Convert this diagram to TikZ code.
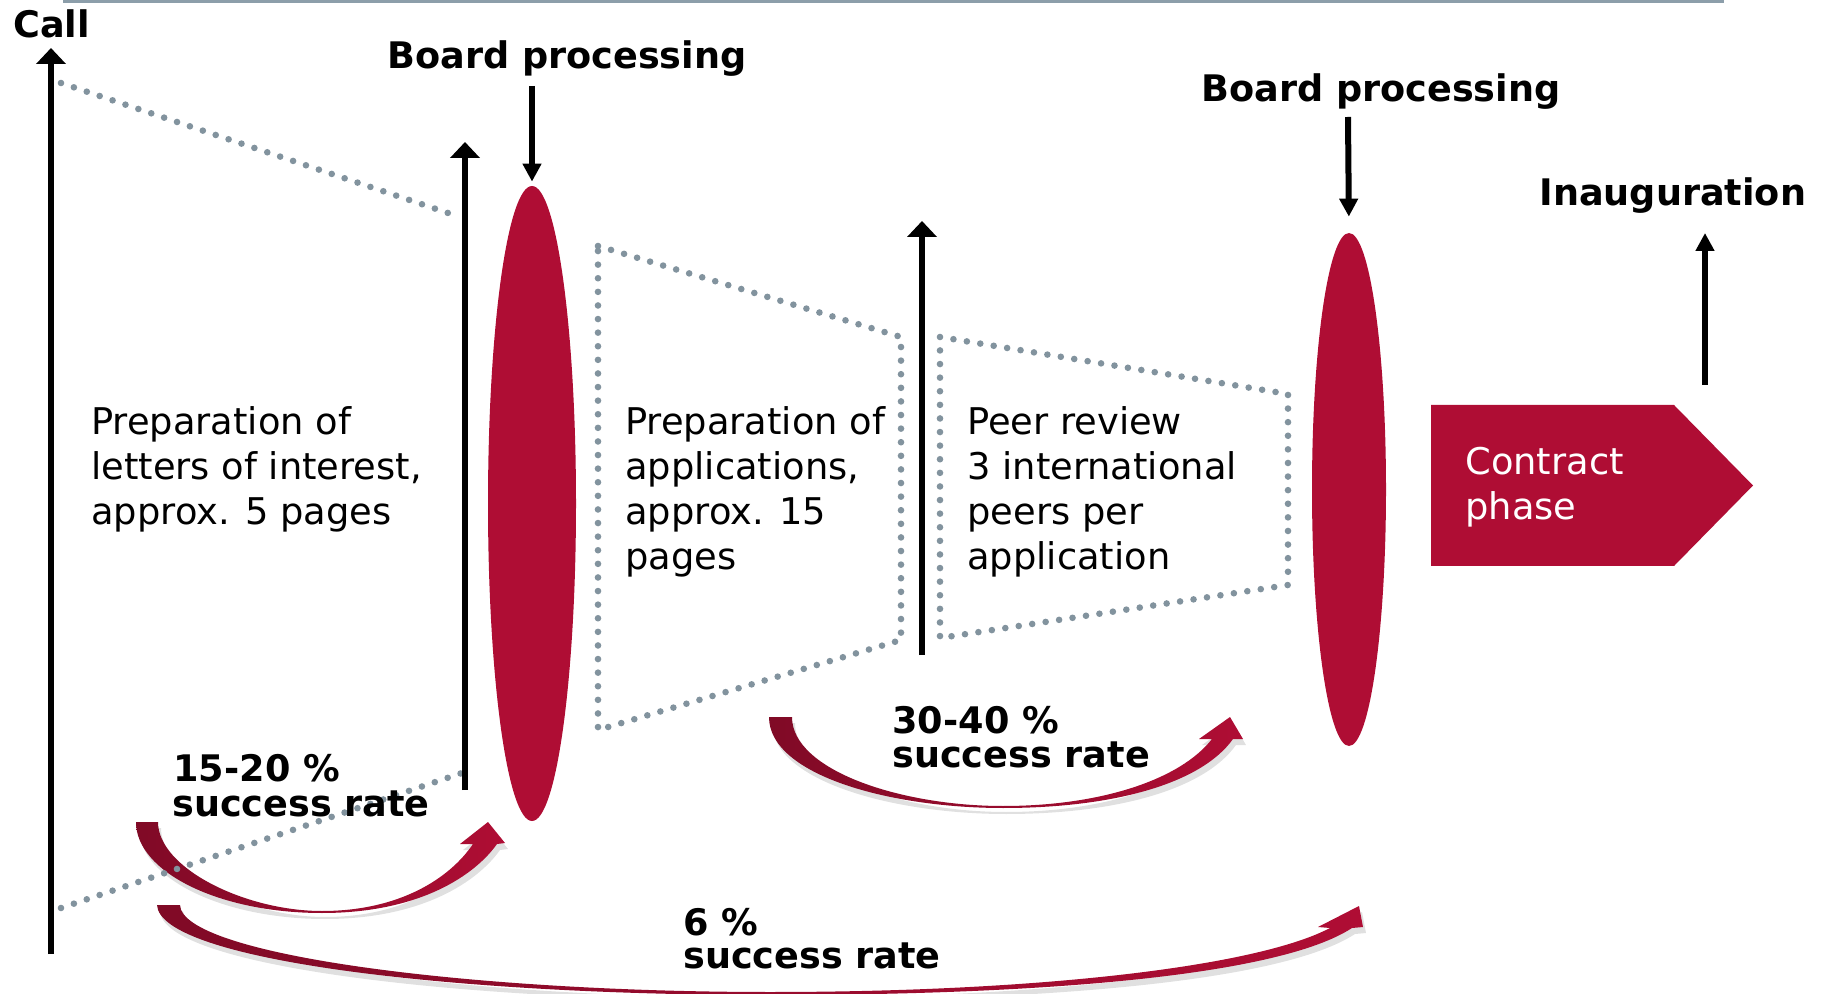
\documentclass[tikz,border=0pt]{standalone}
\usepackage{fontspec}
\setmainfont{DejaVu Sans}
\usetikzlibrary{arrows.meta,shapes.geometric}
\definecolor{crim}{RGB}{175,13,52}
\definecolor{crimdark}{RGB}{128,10,38}
\definecolor{dotgray}{RGB}{130,147,158}
\definecolor{rulegray}{RGB}{140,158,170}
\tikzset{
  bigarrow/.style={line width=3pt,-{Triangle[width=14.5pt,length=8pt]}},
  smallarrow/.style={line width=3pt,-{Triangle[width=9pt,length=9pt]}},
  dotline/.style={draw=dotgray,line width=3.3pt,line cap=round,dash pattern=on 0pt off 6.8pt},
  lbl/.style={inner sep=0pt,anchor=base west,font=\fontsize{18.4pt}{22pt}\selectfont},
  blbl/.style={inner sep=0pt,anchor=base west,font=\fontsize{18.3pt}{22pt}\selectfont\bfseries},
  ell/.style={ellipse,fill=crim,inner sep=0pt},
  band/.style={left color=crimdark,right color=crim},
  bandshadow/.style={fill=black,opacity=0.12},
}
\begin{document}
\begin{tikzpicture}[x=0.5pt,y=-0.5pt]
\useasboundingbox (0,0) rectangle (1827,994);
% top rule
\coordinate (ruleL) at (63,1.5);
\coordinate (ruleR) at (1724,1.5);
\draw[rulegray,line width=1.5pt] (ruleL) -- (ruleR);

% curved success-rate arrows (shadows first)
\path[bandshadow,shift={(3,6)}] (136,822) .. controls (136,872) and (219,913) .. (322,913) .. controls (420,913) and (475,875) .. (497,844) -- (505,843) -- (488,822) -- (460,844) -- (473,844) .. controls (450,878) and (400,911) .. (322,911) .. controls (245,911) and (158,868) .. (158,822) -- cycle;
\path[band] (136,822) .. controls (136,872) and (219,913) .. (322,913) .. controls (420,913) and (475,875) .. (497,844) -- (505,843) -- (488,822) -- (460,844) -- (473,844) .. controls (450,878) and (400,911) .. (322,911) .. controls (245,911) and (158,868) .. (158,822) -- cycle;

\path[bandshadow,shift={(3,6)}] (769,717) .. controls (769,775) and (890,808) .. (1003,808) .. controls (1110,808) and (1200,785) .. (1233,739) -- (1243,739) -- (1230,717) -- (1199,739) -- (1212,739) .. controls (1180,780) and (1100,806) .. (1003,806) .. controls (900,806) and (792,770) .. (792,717) -- cycle;
\path[band] (769,717) .. controls (769,775) and (890,808) .. (1003,808) .. controls (1110,808) and (1200,785) .. (1233,739) -- (1243,739) -- (1230,717) -- (1199,739) -- (1212,739) .. controls (1180,780) and (1100,806) .. (1003,806) .. controls (900,806) and (792,770) .. (792,717) -- cycle;

\path[bandshadow,shift={(3,6)}] (157,905) .. controls (160,960) and (450,995) .. (770,995) .. controls (1050,995) and (1280,975) .. (1352,928) -- (1363,927) -- (1359,906) -- (1318,927) -- (1330,928) .. controls (1260,965) and (1050,992) .. (770,992) .. controls (470,992) and (182,955) .. (180,905) -- cycle;
\path[band] (157,905) .. controls (160,960) and (450,995) .. (770,995) .. controls (1050,995) and (1280,975) .. (1352,928) -- (1363,927) -- (1359,906) -- (1318,927) -- (1330,928) .. controls (1260,965) and (1050,992) .. (770,992) .. controls (470,992) and (182,955) .. (180,905) -- cycle;

% dotted funnel lines
\coordinate (f1a) at (61,83);
\coordinate (f1b) at (457,216);
\coordinate (f1c) at (462,773);
\coordinate (f1d) at (61,908);
\draw[dotline] (f1a) -- (f1b);
\draw[dotline] (f1d) -- (f1c);
\coordinate (f2a) at (598,246);
\coordinate (f2b) at (901,337);
\coordinate (f2c) at (901,640);
\coordinate (f2d) at (598,730);
\draw[dotline] (f2a) -- (f2b) -- (f2c) -- (f2d) -- cycle;
\coordinate (f3a) at (940,337);
\coordinate (f3b) at (1288,394);
\coordinate (f3c) at (1288,585);
\coordinate (f3d) at (940,638);
\draw[dotline] (f3a) -- (f3b) -- (f3c) -- (f3d) -- cycle;

% board ellipses
\node[ell,minimum width=44pt,minimum height=317.5pt] (e1) at (532,503.5) {};
\node[ell,minimum width=37pt,minimum height=256.5pt] (e2) at (1349,489.5) {};

% contract phase
\fill[crim] (1431,405) -- (1674,405) -- (1753,485.5) -- (1674,566) -- (1431,566) -- cycle;
\node[lbl,text=white] (cp1) at (1465,475) {Contract};
\node[lbl,text=white] (cp2) at (1465,520) {phase};

% vertical arrows
\coordinate (callB) at (51,954);
\coordinate (callT) at (51,48);
\draw[bigarrow] (callB) -- (callT);
\coordinate (a2B) at (465,790);
\coordinate (a2T) at (465,142);
\draw[bigarrow] (a2B) -- (a2T);
\coordinate (a3B) at (922,655);
\coordinate (a3T) at (922,221);
\draw[bigarrow] (a3B) -- (a3T);
\coordinate (b1T) at (532,86);
\draw[smallarrow,shorten >=2pt] (b1T) -- (e1.north);
\coordinate (b2T) at (1348,117);
\draw[smallarrow,shorten >=8pt] (b2T) -- (e2.north);
\coordinate (inB) at (1705,385);
\coordinate (inT) at (1705,233);
\draw[smallarrow] (inB) -- (inT);

% bold labels
\node[blbl] (call) at (13,38) {Call};
\node[blbl] (bp1) at (387,69) {Board processing};
\node[blbl] (bp2) at (1201,102) {Board processing};
\node[blbl] (inaug) at (1539,206) {Inauguration};
\node[blbl] (r1a) at (173,781) {15-20 \%};
\node[blbl] (r1b) at (172,816) {success rate};
\node[blbl] (r2a) at (892,733) {30-40 \%};
\node[blbl] (r2b) at (892,767) {success rate};
\node[blbl] (r3a) at (683,935) {6 \%};
\node[blbl] (r3b) at (683,968) {success rate};

% phase texts
\node[lbl] (t1a) at (91,435) {Preparation of};
\node[lbl] (t1b) at (91,480) {letters of interest,};
\node[lbl] (t1c) at (91,525) {approx. 5 pages};
\node[lbl] (t2a) at (625,435) {Preparation of};
\node[lbl] (t2b) at (625,480) {applications,};
\node[lbl] (t2c) at (625,525) {approx. 15};
\node[lbl] (t2d) at (625,570) {pages};
\node[lbl] (t3a) at (967,435) {Peer review};
\node[lbl] (t3b) at (967,480) {3 international};
\node[lbl] (t3c) at (967,525) {peers per};
\node[lbl] (t3d) at (967,570) {application};
\end{tikzpicture}
\end{document}
